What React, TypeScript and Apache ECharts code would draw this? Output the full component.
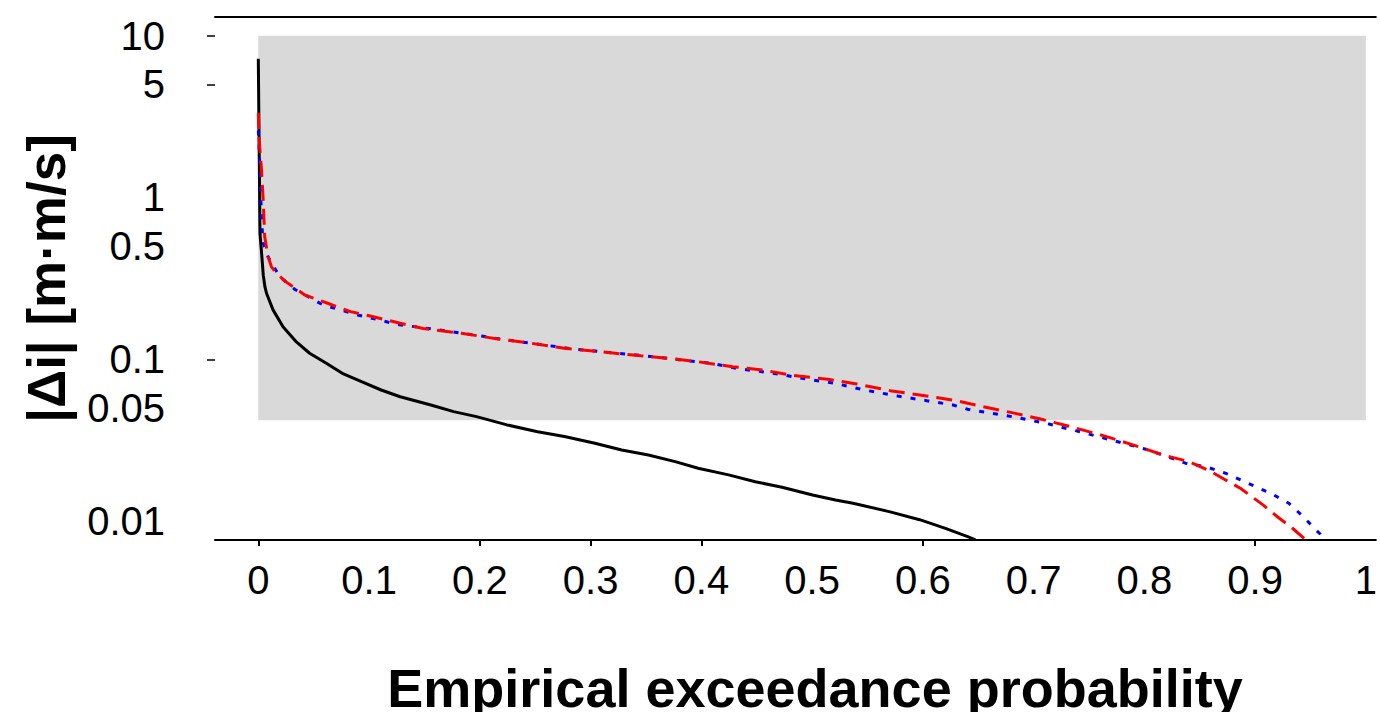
import React, { useEffect, useRef } from "react";
import * as echarts from "echarts";

// ---- axis tick data ----
const X_TICK_LABELS = [0, 0.1, 0.2, 0.3, 0.4, 0.5, 0.6, 0.7, 0.8, 0.9, 1];
const X_TICK_MARKS = [0, 0.2, 0.3, 0.4, 0.6, 0.9];
const Y_TICK_LABELS = [0.01, 0.05, 0.1, 0.5, 1, 5, 10];
const Y_TICK_MARKS = [0.1, 5, 10];
const X_MIN = -0.0391;
const X_MAX = 1.009;
const Y_MIN = 0.00764;
const Y_MAX = 13.05;

// ---- shaded band ----
const BAND_X = [0, 1];
const BAND_Y = [0.042, 10];

// ---- black (solid) ----
const P_BLACK = [0, 0.0015, 0.003, 0.0045, 0.006, 0.0074, 0.0133, 0.0223, 0.0344, 0.0463, 0.0614, 0.0758, 0.0932, 0.1109, 0.1281, 0.1558, 0.1764, 0.197, 0.2246, 0.2522, 0.2764, 0.3039, 0.3281, 0.3522, 0.3764, 0.3971, 0.4246, 0.4487, 0.4729, 0.5004, 0.5211, 0.537, 0.5705, 0.5971, 0.6204, 0.6405, 0.6475];
const V_BLACK = [7.2, 0.6, 0.45, 0.33, 0.28, 0.256, 0.202, 0.159, 0.128, 0.109, 0.0945, 0.0819, 0.0727, 0.0646, 0.0587, 0.0522, 0.0475, 0.0442, 0.0393, 0.0357, 0.0333, 0.0303, 0.0275, 0.0256, 0.0233, 0.0212, 0.0193, 0.0175, 0.0162, 0.0145, 0.0135, 0.0129, 0.0114, 0.0102, 0.00902, 0.00801, 0.00765];

// ---- red (dashed) ----
const P_RED = [0, 0.0009, 0.0029, 0.0043, 0.0058, 0.0088, 0.0119, 0.0164, 0.0247, 0.0419, 0.0626, 0.0833, 0.104, 0.1281, 0.1488, 0.1833, 0.2177, 0.2453, 0.2764, 0.3108, 0.3453, 0.3729, 0.397, 0.4281, 0.4556, 0.4797, 0.5142, 0.5405, 0.5705, 0.5971, 0.6272, 0.6538, 0.6804, 0.7071, 0.7338, 0.7637, 0.7904, 0.8171, 0.8404, 0.8604, 0.8737, 0.887, 0.9071, 0.9204, 0.9337, 0.9454];
const V_RED = [3.33, 2.2, 1.48, 1.0, 0.57, 0.431, 0.373, 0.34, 0.302, 0.25, 0.222, 0.197, 0.183, 0.167, 0.155, 0.145, 0.133, 0.126, 0.117, 0.111, 0.105, 0.101, 0.0966, 0.09, 0.0859, 0.08, 0.0752, 0.0703, 0.064, 0.0602, 0.056, 0.051, 0.0468, 0.0426, 0.0383, 0.0336, 0.0295, 0.0256, 0.0233, 0.0202, 0.0179, 0.0159, 0.0126, 0.0106, 0.00903, 0.0077];

// ---- blue (dotted) ----
const P_BLUE = [0, 0.0007, 0.0029, 0.0043, 0.0088, 0.0193, 0.0328, 0.0583, 0.0898, 0.1123, 0.1258, 0.1695, 0.2298, 0.2884, 0.3487, 0.4091, 0.4314, 0.4659, 0.5004, 0.5205, 0.5472, 0.5772, 0.6038, 0.6272, 0.6405, 0.6838, 0.7138, 0.7471, 0.8038, 0.8371, 0.8554, 0.8737, 0.8938, 0.9137, 0.9304, 0.9437, 0.9521, 0.9587, 0.961];
const V_BLUE = [2.6, 2.08, 0.75, 0.524, 0.43, 0.324, 0.271, 0.217, 0.188, 0.173, 0.164, 0.15, 0.13, 0.115, 0.105, 0.0944, 0.0879, 0.0818, 0.0744, 0.0711, 0.0646, 0.0593, 0.0554, 0.0522, 0.0491, 0.0438, 0.0398, 0.0349, 0.0275, 0.0228, 0.0217, 0.0197, 0.0171, 0.0149, 0.0129, 0.0106, 0.00923, 0.00832, 0.0078];

const X_TITLE = "Empirical exceedance probability";
const Y_TITLE = "|Δi| [m·m/s]";

const FONT = '"Liberation Sans", Arial, sans-serif';
const lg = (v: number) => Math.log10(v);
const pairs = (p: number[], v: number[]) => p.map((x, i) => [x, lg(v[i])]);

export default function App() {
  const ref = useRef<HTMLDivElement>(null);
  useEffect(() => {
    if (!ref.current) return;
    const chart = echarts.init(ref.current, undefined, { renderer: "svg" });
    const yLabel = (v: number) => {
      const raw = Math.pow(10, v);
      let best = Y_TICK_LABELS[0];
      Y_TICK_LABELS.forEach((t) => {
        if (Math.abs(lg(t) - lg(raw)) < Math.abs(lg(best) - lg(raw))) best = t;
      });
      return String(best);
    };
    chart.setOption({
      animation: false,
      backgroundColor: "#ffffff",
      grid: { left: 215, right: 0, top: 17, bottom: 172, containLabel: false },
      xAxis: [
        {
          type: "value",
          position: "bottom",
          min: X_MIN,
          max: X_MAX,
          axisLine: { show: true, onZero: false, lineStyle: { color: "#000", width: 2 } },
          axisTick: {
            show: true,
            customValues: X_TICK_MARKS,
            length: 6,
            lineStyle: { color: "#000", width: 2 },
          },
          axisLabel: {
            customValues: X_TICK_LABELS,
            margin: 20,
            color: "#000",
            fontSize: 40,
            fontFamily: FONT,
            formatter: (v: number) => String(Math.round(v * 10) / 10),
          },
          splitLine: { show: false },
        },
        {
          type: "value",
          position: "top",
          min: X_MIN,
          max: X_MAX,
          axisLine: { show: true, onZero: false, lineStyle: { color: "#000", width: 2 } },
          axisTick: { show: false },
          axisLabel: { show: false },
          splitLine: { show: false },
        },
      ],
      yAxis: {
        type: "value",
        min: lg(Y_MIN),
        max: lg(Y_MAX),
        axisLine: { show: false, onZero: false },
        axisTick: {
          show: true,
          customValues: Y_TICK_MARKS.map(lg),
          length: 8,
          lineStyle: { color: "#000", width: 1.5 },
        },
        axisLabel: {
          customValues: Y_TICK_LABELS.map(lg),
          margin: 50,
          color: "#000",
          fontSize: 40,
          fontFamily: FONT,
          formatter: yLabel,
        },
        splitLine: { show: false },
        name: Y_TITLE,
        nameLocation: "middle",
        nameGap: 142,
        nameTextStyle: {
          fontSize: 53,
          fontWeight: "bold",
          fontFamily: FONT,
          color: "#000",
        },
      },
      graphic: [
        {
          type: "text",
          x: 815,
          y: 688,
          style: {
            text: X_TITLE,
            font: `bold 54px ${FONT}`,
            fill: "#000",
            textAlign: "center",
            textVerticalAlign: "middle",
          },
        },
      ],
      series: [
        {
          type: "line",
          data: [],
          z: 1,
          silent: true,
          markArea: {
            silent: true,
            itemStyle: { color: "#d9d9d9" },
            data: [[{ coord: [BAND_X[0], lg(BAND_Y[0])] }, { coord: [BAND_X[1], lg(BAND_Y[1])] }]],
          },
        },
        {
          type: "line",
          data: pairs(P_BLACK, V_BLACK),
          showSymbol: false,
          z: 3,
          lineStyle: { color: "#000", width: 3 },
        },
        {
          type: "line",
          data: pairs(P_BLUE, V_BLUE),
          showSymbol: false,
          z: 4,
          lineStyle: { color: "#0000ff", width: 3, type: [5, 9] },
        },
        {
          type: "line",
          data: pairs(P_RED, V_RED),
          showSymbol: false,
          z: 5,
          lineStyle: { color: "#ff0000", width: 3, type: [16, 8] },
        },
      ],
    });
    return () => chart.dispose();
  }, []);
  return (
    <div
      ref={ref}
      style={{ position: "fixed", left: 0, top: 0, width: 1380, height: 712, background: "#fff" }}
    />
  );
}
